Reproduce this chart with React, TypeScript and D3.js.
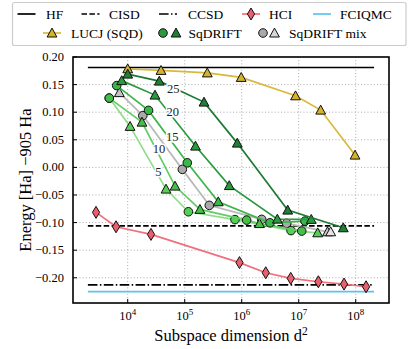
import React from "react";
import * as d3 from "d3";

// ---------- data ----------
const yTicks = [-0.2, -0.15, -0.1, -0.05, 0, 0.05, 0.1, 0.15, 0.2];
const xTickExps = [4, 5, 6, 7, 8];

const refNames = ["HF", "CISD", "CCSD", "FCIQMC"];
const refEnergies = [0.181, -0.106, -0.2127, -0.225];
const refSpan = [2000, 2.1e8];

const hciD = [2780, 6240, 25600, 914000, 2.64e6, 7.24e6, 2.21e7, 6.24e7, 1.52e8];
const hciE = [-0.0815, -0.1076, -0.1214, -0.1725, -0.1909, -0.2011, -0.2072, -0.2114, -0.2163];

const lucjD = [1.0e4, 3.84e4, 2.49e5, 9.8e5, 8.79e6, 2.43e7, 9.73e7];
const lucjE = [0.1786, 0.1757, 0.1712, 0.163, 0.1297, 0.1038, 0.0223];

const sqLabels = ["5", "10", "15", "20", "25"];

const sq5D = [4750, 1.1e4, 4.7e4, 1.16e5, 7.62e5, 7.33e6, 2.15e7];
const sq5E = [0.1255, 0.0743, -0.0393, -0.0804, -0.0946, -0.1145, -0.1185];
const sq5M = ["o", "^", "^", "o", "o", "o", "^"];

const sq10D = [4750, 1.78e4, 6.76e4, 1.85e5, 1.22e6, 2.05e6, 1.13e7];
const sq10E = [0.1255, 0.082, -0.0339, -0.0761, -0.0955, -0.1018, -0.1154];
const sq10M = ["o", "^", "^", "^", "o", "^", "o"];

const sq15D = [6410, 2.32e4, 1.11e5, 3.88e5, 3.13e6, 1.29e7];
const sq15E = [0.1482, 0.1033, 0.0083, -0.0623, -0.1004, -0.0973];
const sq15M = ["o", "o", "o", "^", "o", "o"];

const sq20D = [7850, 3.01e4, 1.545e5, 6.05e5, 4.22e6, 1.66e7];
const sq20E = [0.1572, 0.131, 0.0386, -0.033, -0.0937, -0.0942];
const sq20M = ["^", "^", "^", "^", "^", "^"];

const sq25D = [1.0e4, 3.58e4, 2.18e5, 8.37e5, 6.41e6, 6.05e7];
const sq25E = [0.169, 0.1563, 0.1183, 0.044, -0.0774, -0.1094];
const sq25M = ["^", "^", "^", "^", "^", "^"];

const mixD = [7130, 1.84e4, 9.08e4, 2.7e5, 2.24e6, 6.15e6, 3.2e7, 3.64e7];
const mixE = [0.1355, 0.0938, -0.0036, -0.0688, -0.0942, -0.1014, -0.1167, -0.1167];
const mixM = ["^", "o", "o", "o", "o", "o", "^", "^w"];

// inline label anchors (data coords), order matches sqLabels
const labelD = [3.44e4, 3.54e4, 6.05e4, 6.15e4, 6.31e4];
const labelE = [-0.0078, 0.0344, 0.0554, 0.1009, 0.1433];

// ---------- styles ----------
const FONT = "Liberation Serif, DejaVu Serif, serif";
const sqLine = ["#8ede88", "#63cc66", "#3db54a", "#2a9940", "#1b7a33"];
const sqFill = ["#55cf55", "#44c046", "#38b848", "#2a9a3e", "#1f7f35"];

function Marker({ t, cx, cy, fill }: { t: string; cx: number; cy: number; fill: string }) {
  const s = { stroke: "#111", strokeWidth: 1 };
  if (t === "o") return <circle cx={cx} cy={cy} r={4.3} fill={fill} {...s} />;
  if (t === "d")
    return (
      <polygon
        points={`${cx},${cy - 6} ${cx + 3.6},${cy} ${cx},${cy + 6} ${cx - 3.6},${cy}`}
        fill={fill}
        {...s}
      />
    );
  return (
    <polygon
      points={`${cx},${cy - 4.9} ${cx - 4.9},${cy + 4} ${cx + 4.9},${cy + 4}`}
      fill={fill}
      {...s}
    />
  );
}

export default function App() {
  const W = 409,
    H = 349;
  const L = 73,
    R = 389,
    T = 57,
    B = 303;
  const x = d3.scaleLog().domain([Math.pow(10, 3.04), Math.pow(10, 8.584)]).range([L, R]);
  const y = d3.scaleLinear().domain([-0.2457, 0.2]).range([B, T]);
  const path = (ds: number[], es: number[]) =>
    d3.line()(ds.map((d, i) => [x(d), y(es[i])] as [number, number])) || "";

  const refStyles = [
    { stroke: "#000", dash: undefined, w: 1.7 },
    { stroke: "#000", dash: "5.5,2.4", w: 1.7 },
    { stroke: "#000", dash: "9.6,2.4,1.5,2.4", w: 1.7 },
    { stroke: "#5bc4ec", dash: undefined, w: 1.7 },
  ];

  const sqSeries = [
    { D: sq5D, E: sq5E, M: sq5M },
    { D: sq10D, E: sq10E, M: sq10M },
    { D: sq15D, E: sq15E, M: sq15M },
    { D: sq20D, E: sq20E, M: sq20M },
    { D: sq25D, E: sq25E, M: sq25M },
  ];

  const row1 = 14,
    row2 = 33;

  return (
    <svg
      width={W}
      height={H}
      style={{ position: "absolute", left: 0, top: 0, background: "#fff", fontFamily: FONT }}
    >
      <defs>
        <clipPath id="plot">
          <rect x={L} y={T} width={R - L} height={B - T} />
        </clipPath>
      </defs>
      <rect x={0} y={0} width={W} height={H} fill="#fff" />

      {/* grid */}
      {yTicks.map((t) => (
        <line key={"gy" + t} x1={L} x2={R} y1={y(t)} y2={y(t)} stroke="#aaa" strokeWidth={1} strokeDasharray="1,2.2" />
      ))}
      {xTickExps.map((e) => (
        <line
          key={"gx" + e}
          x1={x(Math.pow(10, e))}
          x2={x(Math.pow(10, e))}
          y1={T}
          y2={B}
          stroke="#aaa"
          strokeWidth={1}
          strokeDasharray="1,2.2"
        />
      ))}

      <g clipPath="url(#plot)">
        {/* reference lines */}
        {refEnergies.map((e, i) => (
          <line
            key={refNames[i]}
            x1={x(refSpan[0])}
            x2={x(refSpan[1])}
            y1={y(e)}
            y2={y(e)}
            stroke={refStyles[i].stroke}
            strokeWidth={refStyles[i].w}
            strokeDasharray={refStyles[i].dash}
          />
        ))}

        {/* HCI */}
        <path d={path(hciD, hciE)} fill="none" stroke="#f0707e" strokeWidth={1.7} />
        {hciD.map((d, i) => (
          <Marker key={"h" + i} t="d" cx={x(d)} cy={y(hciE[i])} fill="#e8606e" />
        ))}

        {/* LUCJ */}
        <path d={path(lucjD, lucjE)} fill="none" stroke="#d9b93a" strokeWidth={1.7} />
        {lucjD.map((d, i) => (
          <Marker key={"l" + i} t="^" cx={x(d)} cy={y(lucjE[i])} fill="#d4b22a" />
        ))}

        {/* SqDRIFT mix */}
        <path d={path(mixD, mixE)} fill="none" stroke="#b8b8b8" strokeWidth={1.7} />
        {mixD.map((d, i) => (
          <Marker
            key={"m" + i}
            t={mixM[i] === "o" ? "o" : "^"}
            cx={x(d)}
            cy={y(mixE[i])}
            fill={mixM[i] === "o" ? "#a9a9a9" : mixM[i] === "^w" ? "#e4e4e4" : "#c4c4c4"}
          />
        ))}

        {/* SqDRIFT series */}
        {sqSeries.map((s, k) => (
          <g key={"sq" + k}>
            <path d={path(s.D, s.E)} fill="none" stroke={sqLine[k]} strokeWidth={1.7} />
            {s.D.map((d, i) => (
              <Marker key={i} t={s.M[i]} cx={x(d)} cy={y(s.E[i])} fill={sqFill[k]} />
            ))}
          </g>
        ))}

        {/* inline labels */}
        {sqLabels.map((lab, i) => (
          <text
            key={"lab" + lab}
            x={x(labelD[i])}
            y={y(labelE[i]) + 4.3}
            textAnchor="middle"
            fontSize={12.5}
            fontFamily={FONT}
            fill="#222"
            stroke="#fff"
            strokeWidth={3}
            paintOrder="stroke"
          >
            {lab}
          </text>
        ))}
      </g>

      {/* frame */}
      <rect x={L} y={T} width={R - L} height={B - T} fill="none" stroke="#000" strokeWidth={1.6} />

      {/* ticks */}
      {xTickExps.map((e) => (
        <g key={"xt" + e}>
          <line x1={x(Math.pow(10, e))} x2={x(Math.pow(10, e))} y1={B} y2={B - 4} stroke="#000" strokeWidth={1} />
          <text x={x(Math.pow(10, e))} y={320} textAnchor="middle" fontSize={12.5} fontFamily={FONT}>
            10
            <tspan dy={-5} fontSize={9}>
              {e}
            </tspan>
          </text>
        </g>
      ))}
      {yTicks.map((t) => (
        <g key={"yt" + t}>
          <line x1={L} x2={L + 4} y1={y(t)} y2={y(t)} stroke="#000" strokeWidth={1} />
          <text x={64} y={y(t) + 4} textAnchor="end" fontSize={12.5} fontFamily={FONT}>
            {(t < 0 ? "\u2212" : "") + Math.abs(t).toFixed(2)}
          </text>
        </g>
      ))}

      {/* axis labels */}
      <text x={(L + R) / 2} y={341} textAnchor="middle" fontSize={16.5} fontFamily={FONT}>
        Subspace dimension d
        <tspan dy={-6} fontSize={11.5}>
          2
        </tspan>
      </text>
      <text
        transform={`translate(31,${(T + B) / 2}) rotate(-90)`}
        textAnchor="middle"
        fontSize={16.5}
        fontFamily={FONT}
      >
        Energy [Ha] {"\u2212"}905 Ha
      </text>

      {/* legend */}
      <rect x={12.5} y={2.5} width={393.5} height={43} fill="#fff" stroke="#ccc" strokeWidth={1.2} rx={2} />
      <g fontSize={13.5} fontFamily={FONT}>
        {/* row 1 */}
        <line x1={17.5} x2={35.5} y1={row1} y2={row1} stroke="#000" strokeWidth={1.7} />
        <text x={46} y={row1 + 4.5}>HF</text>
        <line x1={81.5} x2={99.5} y1={row1} y2={row1} stroke="#000" strokeWidth={1.7} strokeDasharray="5.5,2.4" />
        <text x={109} y={row1 + 4.5}>CISD</text>
        <line x1={159} x2={177} y1={row1} y2={row1} stroke="#000" strokeWidth={1.7} strokeDasharray="9.6,2.4,1.5,2.4" />
        <text x={188} y={row1 + 4.5}>CCSD</text>
        <line x1={242} x2={260} y1={row1} y2={row1} stroke="#f0707e" strokeWidth={1.7} />
        <Marker t="d" cx={251} cy={row1} fill="#e8606e" />
        <text x={269} y={row1 + 4.5}>HCI</text>
        <line x1={313} x2={331} y1={row1} y2={row1} stroke="#5bc4ec" strokeWidth={1.7} />
        <text x={340} y={row1 + 4.5}>FCIQMC</text>
        {/* row 2 */}
        <line x1={43} x2={61} y1={row2} y2={row2} stroke="#d9b93a" strokeWidth={1.7} />
        <Marker t="^" cx={52} cy={row2} fill="#d4b22a" />
        <text x={71} y={row2 + 4.5}>LUCJ (SQD)</text>
        <Marker t="o" cx={163} cy={row2} fill="#2a9a3e" />
        <Marker t="^" cx={176} cy={row2} fill="#1f7f35" />
        <text x={188.5} y={row2 + 4.5}>SqDRIFT</text>
        <Marker t="o" cx={263} cy={row2} fill="#a9a9a9" />
        <Marker t="^" cx={274.5} cy={row2} fill="#d8d8d8" />
        <text x={289} y={row2 + 4.5}>SqDRIFT mix</text>
      </g>
    </svg>
  );
}
